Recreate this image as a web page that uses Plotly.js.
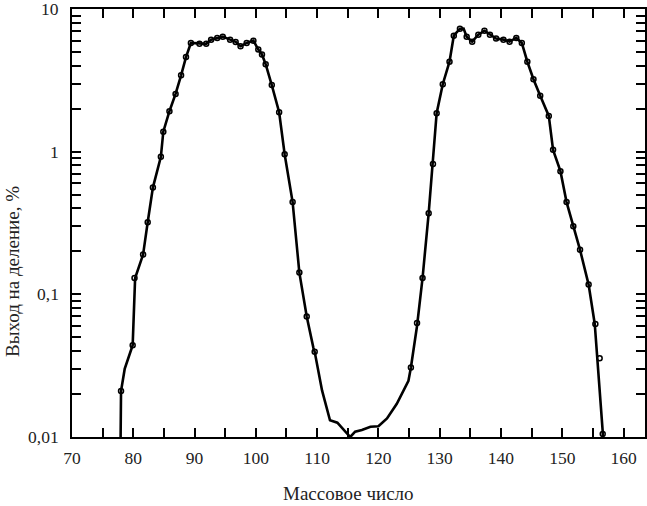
<!DOCTYPE html>
<html>
<head>
<meta charset="utf-8">
<script src="https://cdn.plot.ly/plotly-3.0.1.min.js"></script>
<style>
  html, body { margin: 0; padding: 0; background: #fff; }
  #chart { width: 647px; height: 506px; }
</style>
</head>
<body>
<div id="chart"></div>
<script>
// Smooth curve through the measurements (mass number, yield %)
const curveMass = [77.9, 78.0, 78.6, 79.9, 80.3, 81.6, 82.35, 83.2, 84.5, 84.9, 85.9, 86.9, 87.8, 88.6, 89.4, 90.8, 91.9, 92.7, 93.7, 94.6, 95.8, 96.7, 97.5, 98.5, 99.6, 100.4, 101.0, 101.6, 102.6, 103.8, 104.7, 106.0, 107.1, 108.3, 109.4, 109.6, 110.8, 112.1, 113.3, 114.8, 115.4, 116.2, 117.3, 118.7, 120.0, 121.4, 123.0, 124.9, 125.3, 126.3, 127.2, 128.2, 128.9, 129.5, 130.5, 131.6, 132.3, 133.3, 133.9, 134.4, 135.3, 136.3, 137.3, 138.2, 139.2, 140.4, 141.4, 142.5, 143.4, 144.3, 145.3, 146.4, 147.8, 148.5, 149.7, 150.7, 151.8, 152.9, 154.3, 155.3, 156.6, 156.7];
const curveYield = [0.007, 0.021, 0.030, 0.044, 0.13, 0.19, 0.32, 0.56, 0.92, 1.38, 1.92, 2.54, 3.43, 4.6, 5.78, 5.7, 5.7, 6.1, 6.27, 6.4, 6.1, 5.88, 5.48, 5.78, 6.0, 5.2, 4.8, 4.1, 2.93, 1.89, 0.96, 0.443, 0.142, 0.070, 0.042, 0.0396, 0.0212, 0.0131, 0.0126, 0.0106, 0.0100, 0.0109, 0.0112, 0.0118, 0.0119, 0.0135, 0.0171, 0.0248, 0.0307, 0.060, 0.13, 0.37, 0.82, 1.86, 2.97, 4.27, 6.5, 7.27, 7.3, 6.4, 5.9, 6.6, 7.04, 6.6, 6.2, 6.1, 5.9, 6.27, 5.78, 4.27, 3.22, 2.47, 1.78, 1.03, 0.73, 0.443, 0.30, 0.205, 0.117, 0.062, 0.0109, 0.008];

// Measured points (open markers)
const pointMass = [78.0, 79.9, 80.2, 81.6, 82.35, 83.2, 84.5, 84.9, 85.9, 86.9, 87.8, 88.6, 89.4, 90.8, 91.9, 92.7, 93.7, 94.6, 95.8, 96.7, 97.5, 98.5, 99.6, 100.4, 101.0, 101.6, 102.6, 103.8, 104.7, 106.0, 107.1, 108.3, 109.6, 125.3, 126.3, 127.2, 128.2, 128.9, 129.5, 130.5, 131.6, 132.3, 133.3, 134.4, 135.3, 136.3, 137.3, 138.2, 139.2, 140.4, 141.4, 142.5, 143.4, 144.3, 145.3, 146.4, 147.8, 148.5, 149.7, 150.7, 151.8, 152.9, 154.3, 155.4, 156.1, 156.6];
const pointYield = [0.021, 0.044, 0.13, 0.19, 0.32, 0.56, 0.92, 1.38, 1.92, 2.54, 3.43, 4.6, 5.78, 5.7, 5.7, 6.1, 6.27, 6.4, 6.1, 5.88, 5.48, 5.78, 6.0, 5.2, 4.8, 4.1, 2.93, 1.89, 0.96, 0.443, 0.142, 0.070, 0.0396, 0.0307, 0.063, 0.13, 0.37, 0.82, 1.86, 2.97, 4.27, 6.5, 7.27, 6.4, 5.9, 6.6, 7.04, 6.6, 6.2, 6.1, 5.9, 6.27, 5.78, 4.27, 3.22, 2.47, 1.78, 1.03, 0.73, 0.443, 0.30, 0.205, 0.117, 0.062, 0.0357, 0.0105];

// Axis ticks
const xTickVals = [70, 75, 80, 85, 90, 95, 100, 105, 110, 115, 120, 125, 130, 135, 140, 145, 150, 155, 160];
const xTickText = ['70', '', '80', '', '90', '', '100', '', '110', '', '120', '', '130', '', '140', '', '150', '', '160'];
const yMajorVals = [0.01, 0.1, 1, 10];
const yMajorText = ['0,01', '0,1', '1', '10'];
const yMinorVals = [0.02, 0.03, 0.04, 0.05, 0.06, 0.07, 0.08, 0.09, 0.2, 0.3, 0.4, 0.5, 0.6, 0.7, 0.8, 0.9, 2, 3, 4, 5, 6, 7, 8, 9];

const xTitle = 'Массовое число';
const yTitle = 'Выход на деление, %';

const FONT = '"Liberation Serif", "Times New Roman", serif';

const yAllVals = yMajorVals.concat(yMinorVals);

const traces = [
  {
    x: curveMass, y: curveYield, type: 'scatter', mode: 'lines',
    line: { color: '#000', width: 2.6 },
    hoverinfo: 'skip', showlegend: false
  },
  {
    x: pointMass, y: pointYield, type: 'scatter', mode: 'markers',
    marker: { symbol: 'circle-open', size: 5, color: '#000', line: { width: 1.5, color: '#000' } },
    showlegend: false
  }
];

// y tick labels placed at the decade values on the y scale (log axis -> log10 position)
const yLabelAnnotations = yMajorVals.map((v, i) => ({
  text: yMajorText[i], xref: 'paper', yref: 'y',
  x: -(72 - 61) / 573, y: Math.log10(v),
  xanchor: 'right', yanchor: 'middle', showarrow: false,
  font: { family: FONT, size: 17.5, color: '#222' }
}));

const layout = {
  width: 647, height: 506,
  margin: { l: 72, r: 2, t: 9, b: 69 },
  paper_bgcolor: '#fff', plot_bgcolor: '#fff',
  font: { family: FONT, size: 17, color: '#222' },
  showlegend: false,
  xaxis: {
    range: [70, 163.5],
    tickmode: 'array', tickvals: xTickVals, ticktext: xTickText,
    ticks: 'inside', ticklen: 9, tickwidth: 2, tickcolor: '#000',
    showline: true, linecolor: '#000', linewidth: 2, mirror: 'ticks',
    showgrid: false, zeroline: false,
    tickfont: { family: FONT, size: 17.5, color: '#222' },
    ticklabelstandoff: 4
  },
  yaxis: {
    type: 'log', range: [-2, 1],
    tickmode: 'array', tickvals: yAllVals,
    ticks: 'inside', ticklen: 9, tickwidth: 2, tickcolor: '#000',
    showline: true, linecolor: '#000', linewidth: 2, mirror: 'ticks',
    showgrid: false, showticklabels: false
  },
  annotations: yLabelAnnotations.concat([
    {
      text: xTitle, xref: 'paper', yref: 'paper',
      x: (348 - 72) / (645 - 72), y: -(493 - 437) / 428,
      xanchor: 'center', yanchor: 'middle', showarrow: false,
      font: { family: FONT, size: 19, color: '#222' }
    },
    {
      text: yTitle, xref: 'paper', yref: 'paper', textangle: -90,
      x: -(72 - 13) / 573, y: (437 - 272) / 428,
      xanchor: 'center', yanchor: 'middle', showarrow: false,
      font: { family: FONT, size: 19, color: '#222' }
    }
  ])
};

Plotly.newPlot('chart', traces, layout, { displayModeBar: false, staticPlot: true });
</script>
</body>
</html>
